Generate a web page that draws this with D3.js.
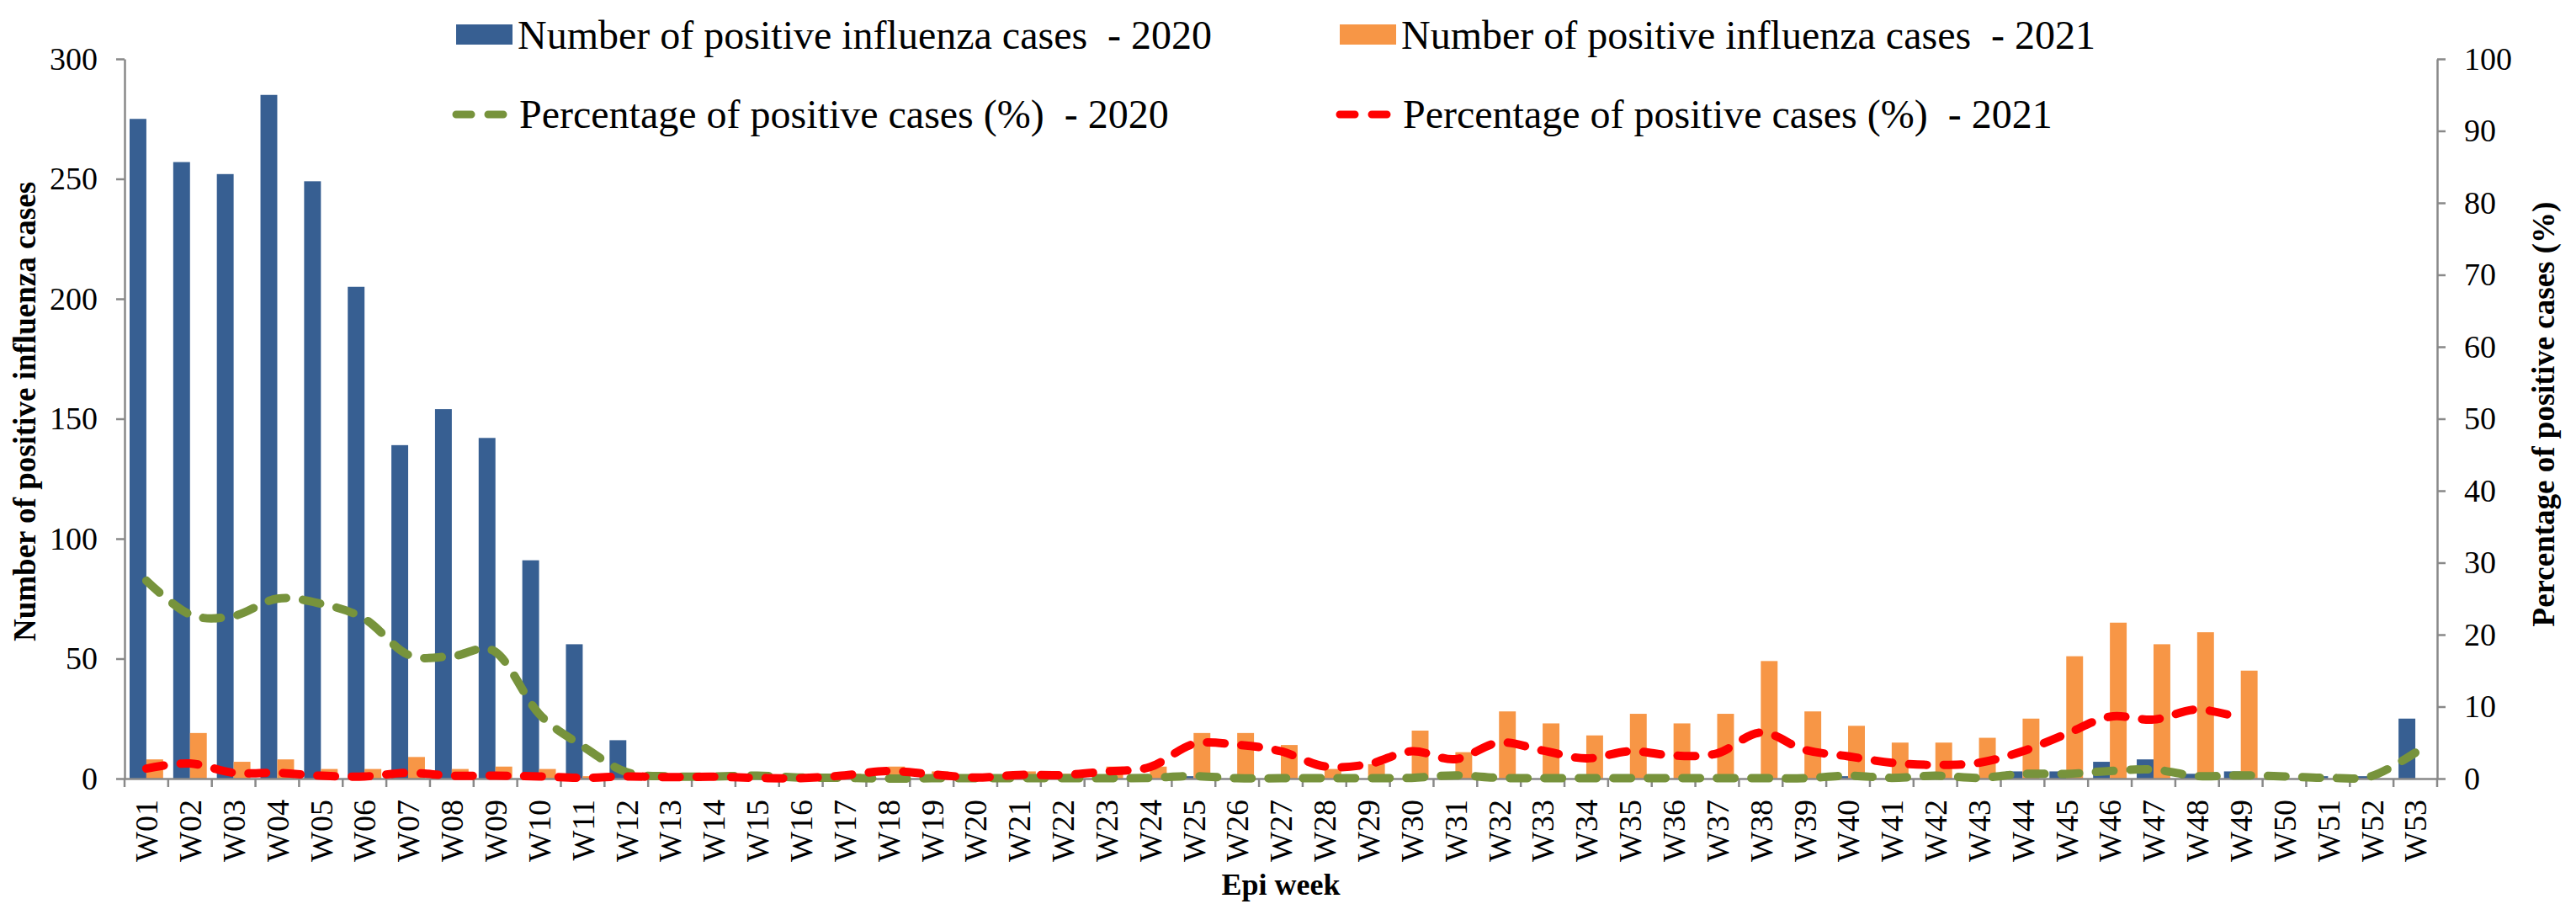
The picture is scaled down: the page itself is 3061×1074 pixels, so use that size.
<!DOCTYPE html>
<html>
<head>
<meta charset="utf-8">
<script src="https://cdn.jsdelivr.net/npm/d3@7"></script>
<style>
  body { margin: 0; background: #fff; }
  svg text { font-family: "Liberation Serif", "Times New Roman", serif; fill: #000; }
</style>
</head>
<body>
<div id="chart"></div>
<script>
const weeks = ["W01","W02","W03","W04","W05","W06","W07","W08","W09","W10",
               "W11","W12","W13","W14","W15","W16","W17","W18","W19","W20",
               "W21","W22","W23","W24","W25","W26","W27","W28","W29","W30",
               "W31","W32","W33","W34","W35","W36","W37","W38","W39","W40",
               "W41","W42","W43","W44","W45","W46","W47","W48","W49","W50",
               "W51","W52","W53"];

// number of positive influenza cases
const cases2020 = [275,257,252,285,249,205,139,154,142,91,
                   56,16,0,0,0,0,0,0,0,0,
                   0,0,0,0,1,0,0,0,0,0,
                   1,0,0,0,0,0,0,0,0,1,
                   0,0,0,3,3,7,8,2,3,2,
                   1,1,25];
const cases2021 = [8,19,7,8,4,4,9,4,5,4,
                   1,2,1,2,1,1,2,5,3,1,
                   3,2,5,5,19,19,14,4,6,20,
                   11,28,23,18,27,23,27,49,28,22,
                   15,15,17,25,51,65,56,61,45,null,
                   null,null,null];

// percentage of positive cases (%)
const pct2020 = [27.5,22.8,22.6,25.0,24.3,22.2,17.2,17.0,17.6,9.0,
                 4.5,0.9,0.3,0.3,0.4,0.15,0.1,0,0.05,0.05,
                 0.05,0.05,0.05,0.1,0.35,0.05,0.05,0.05,0.05,0.1,
                 0.45,0.1,0.05,0.05,0.05,0.05,0.05,0.05,0.05,0.4,
                 0.1,0.4,0.1,0.65,0.65,1.05,1.25,0.35,0.45,0.3,
                 0.1,0.35,3.6];
const pct2021 = [1.4,2.1,0.8,0.8,0.4,0.3,0.8,0.4,0.4,0.3,
                 0.1,0.3,0.2,0.25,0.1,0.05,0.45,1.05,0.6,0.15,
                 0.5,0.5,1.0,1.6,4.8,4.7,3.8,1.7,2.0,3.8,
                 2.7,5.0,3.9,2.8,3.8,3.2,3.5,6.4,4.0,3.1,
                 2.2,1.9,2.2,3.8,6.2,8.6,8.2,9.6,8.4];

const leftTicks = [0,50,100,150,200,250,300];
const rightTicks = [0,10,20,30,40,50,60,70,80,90,100];

const legendItems = [
    {label: "Number of positive influenza cases  - 2020", type: "bar", color: "#375f92"},
    {label: "Number of positive influenza cases  - 2021", type: "bar", color: "#f79646"},
    {label: "Percentage of positive cases (%)  - 2020", type: "line", color: "#77933c"},
    {label: "Percentage of positive cases (%)  - 2021", type: "line", color: "#ff0000"}
];

const width = 3061, height = 1074;
const margin = {top: 70, right: 165, bottom: 149, left: 148};
const mwidth = width - margin.left - margin.right;
const mheight = height - margin.top - margin.bottom;
const axisColor = "#898989";

const svg = d3.select("#chart").append("svg")
    .attr("width", width)
    .attr("height", height);

const x = d3.scaleBand().domain(weeks).range([0, mwidth]);
const x1 = d3.scaleBand().domain(["2020", "2021"])
    .range([0, x.bandwidth()])
    .paddingOuter(0.3);
const yL = d3.scaleLinear().domain([0, 300]).range([mheight, 0]);
const yR = d3.scaleLinear().domain([0, 100]).range([mheight, 0]);

const g = svg.append("g")
    .attr("transform", "translate(" + margin.left + "," + margin.top + ")");

// bars
const barData = weeks.map((w, i) => ({week: w, v2020: cases2020[i], v2021: cases2021[i]}));
g.append("g").selectAll("rect")
    .data(barData)
    .join("rect")
    .attr("x", d => x(d.week) + x1("2020"))
    .attr("width", x1.bandwidth())
    .attr("y", d => yL(d.v2020))
    .attr("height", d => yL(0) - yL(d.v2020))
    .attr("fill", legendItems[0].color);
g.append("g").selectAll("rect")
    .data(barData.filter(d => d.v2021 != null))
    .join("rect")
    .attr("x", d => x(d.week) + x1("2021"))
    .attr("width", x1.bandwidth())
    .attr("y", d => yL(d.v2021))
    .attr("height", d => yL(0) - yL(d.v2021))
    .attr("fill", legendItems[1].color);

// axes
function styleAxis(sel) {
    sel.attr("font-family", null);
    sel.select(".domain").attr("stroke", axisColor).attr("stroke-width", 2.5);
    sel.selectAll(".tick line").attr("stroke", axisColor).attr("stroke-width", 2.5);
    sel.selectAll(".tick text").attr("font-size", 38).attr("fill", "#000");
}

const yAxisLeft = d3.axisLeft(yL).tickValues(leftTicks)
    .tickSize(10).tickSizeOuter(0).tickPadding(22);
g.append("g").call(yAxisLeft).call(styleAxis);

const yAxisRight = d3.axisRight(yR).tickValues(rightTicks)
    .tickSize(10).tickSizeOuter(0).tickPadding(22);
g.append("g").attr("transform", "translate(" + mwidth + ",0)")
    .call(yAxisRight).call(styleAxis);

const xAxis = d3.axisBottom(x).tickSize(0).tickSizeOuter(0);
const gx = g.append("g").attr("transform", "translate(0," + mheight + ")")
    .call(xAxis).call(styleAxis);
gx.selectAll(".tick text")
    .attr("transform", "rotate(-90)")
    .attr("x", -25)
    .attr("y", 0)
    .attr("dy", "0.35em")
    .style("text-anchor", "end");
// category boundary ticks
gx.selectAll("line.boundary")
    .data(weeks.concat(["end"]))
    .join("line")
    .attr("class", "boundary")
    .attr("x1", d => d === "end" ? mwidth : x(d))
    .attr("x2", d => d === "end" ? mwidth : x(d))
    .attr("y1", 0)
    .attr("y2", 10)
    .attr("stroke", axisColor)
    .attr("stroke-width", 2.5);

// lines (smoothed, dashed)
const lineFn = d3.line()
    .x(d => x(d.week) + x.bandwidth() / 2)
    .y(d => yR(d.v))
    .curve(d3.curveCardinal.tension(0));

const lines = [
    {data: weeks.map((w, i) => ({week: w, v: pct2020[i]})), color: legendItems[2].color},
    {data: pct2021.map((v, i) => ({week: weeks[i], v: v})), color: legendItems[3].color}
];
g.append("g").selectAll("path")
    .data(lines)
    .join("path")
    .attr("d", d => lineFn(d.data))
    .attr("fill", "none")
    .attr("stroke", d => d.color)
    .attr("stroke-width", 10)
    .attr("stroke-linecap", "round")
    .attr("stroke-dasharray", "21 20");

// axis titles
svg.append("text")
    .attr("transform", "translate(42,489) rotate(-90)")
    .style("text-anchor", "middle")
    .attr("font-size", 37)
    .attr("font-weight", "bold")
    .text("Number of positive influenza cases");

svg.append("text")
    .attr("transform", "translate(3035,492) rotate(-90)")
    .style("text-anchor", "middle")
    .attr("font-size", 37)
    .attr("font-weight", "bold")
    .text("Percentage of positive cases (%)");

svg.append("text")
    .attr("x", margin.left + mwidth / 2)
    .attr("y", 1063)
    .style("text-anchor", "middle")
    .attr("font-size", 36)
    .attr("font-weight", "bold")
    .text("Epi week");

// legend
const legendPos = [
    {x: 542, y: 58}, {x: 1592, y: 58},
    {x: 542, y: 152}, {x: 1592, y: 152}
];
const leg = svg.append("g").selectAll("g")
    .data(legendItems)
    .join("g")
    .attr("transform", (d, i) => "translate(" + legendPos[i].x + "," + legendPos[i].y + ")");

leg.filter(d => d.type === "bar").append("rect")
    .attr("x", 0).attr("y", -29)
    .attr("width", 67).attr("height", 24)
    .attr("fill", d => d.color);

leg.filter(d => d.type === "line").append("line")
    .attr("x1", 0).attr("x2", 56)
    .attr("y1", -16).attr("y2", -16)
    .attr("stroke", d => d.color)
    .attr("stroke-width", 9)
    .attr("stroke-linecap", "round")
    .attr("stroke-dasharray", "18 20");

leg.append("text")
    .attr("x", d => d.type === "bar" ? 73 : 75)
    .attr("y", 0)
    .attr("font-size", 48)
    .style("white-space", "pre")
    .text(d => d.label);
</script>
</body>
</html>
